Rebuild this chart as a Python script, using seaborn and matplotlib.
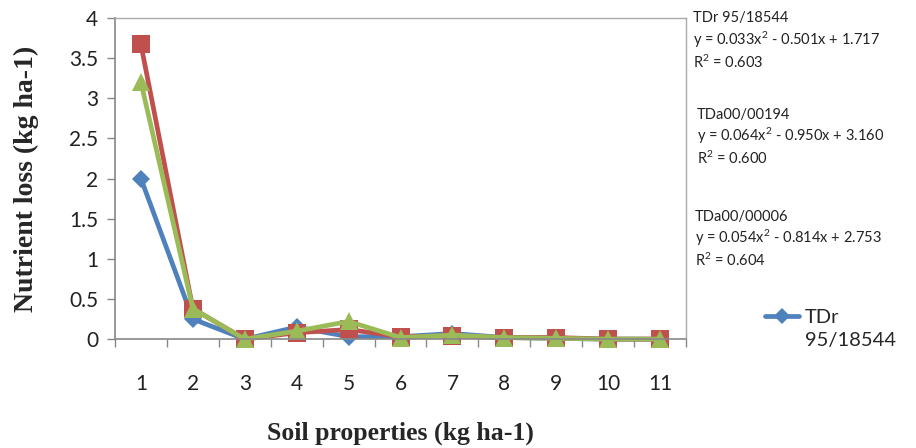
import pandas as pd
import matplotlib
matplotlib.use("Agg")
import matplotlib.pyplot as plt
import seaborn as sns
from matplotlib.ticker import FixedLocator

# soil property index (category axis)
categories = [1, 2, 3, 4, 5, 6, 7, 8, 9, 10, 11]

# nutrient loss per variety
tdr_95_18544 = [2.0, 0.25, 0.0, 0.15, 0.03, 0.03, 0.07, 0.02, 0.01, 0.0, 0.0]
tda00_00194 = [3.67, 0.38, 0.0, 0.08, 0.12, 0.03, 0.04, 0.02, 0.02, 0.0, 0.0]
tda00_00006 = [3.2, 0.38, 0.0, 0.1, 0.22, 0.02, 0.05, 0.02, 0.01, 0.0, 0.0]

series_names = ["TDr 95/18544", "TDa00/00194", "TDa00/00006"]
trend_eqs = [
    ("TDr 95/18544", "y = 0.033x$^2$ - 0.501x + 1.717", "R$^2$ = 0.603"),
    ("TDa00/00194", "y = 0.064x$^2$ - 0.950x + 3.160", "R$^2$ = 0.600"),
    ("TDa00/00006", "y = 0.054x$^2$ - 0.814x + 2.753", "R$^2$ = 0.604"),
]

def main():
    frames = []
    for name, vals in zip(series_names, [tdr_95_18544, tda00_00194, tda00_00006]):
        frames.append(pd.DataFrame({"x": categories, "loss": vals, "variety": name}))
    df = pd.concat(frames, ignore_index=True)

    sns.set_theme(style="white")
    plt.rcParams["font.family"] = ["Lato", "DejaVu Sans"]
    plt.rcParams["mathtext.default"] = "regular"

    fig = plt.figure(figsize=(9.16, 4.48), dpi=100)
    ax = fig.add_axes([0.1255, 0.243, 0.6235, 0.717])

    palette = {"TDr 95/18544": "#4F81BD", "TDa00/00194": "#C0504D", "TDa00/00006": "#9BBB59"}
    markers = {"TDr 95/18544": "D", "TDa00/00194": "s", "TDa00/00006": "^"}
    sns.lineplot(data=df, x="x", y="loss", hue="variety", style="variety",
                 palette=palette, markers=markers, dashes=False, linewidth=3.4,
                 markersize=12.5, markeredgewidth=0, ax=ax, legend=True, clip_on=False)
    for line in ax.lines:
        if line.get_marker() == "D":
            line.set_markersize(9.5)

    ax.set_xlim(0.5, 11.5)
    ax.set_ylim(0, 4)
    ax.set_yticks([0, 0.5, 1, 1.5, 2, 2.5, 3, 3.5, 4])
    ax.set_yticklabels(["0", "0.5", "1", "1.5", "2", "2.5", "3", "3.5", "4"])
    ax.set_xticks(categories)
    ax.xaxis.set_minor_locator(FixedLocator([c + 0.5 for c in [0] + categories]))
    ax.tick_params(axis="x", which="major", length=0, pad=25, labelsize=15, colors="#222222")
    ax.tick_params(axis="x", which="minor", length=6, width=1, color="#888888", direction="out", bottom=True)
    ax.tick_params(axis="y", length=6, width=1, color="#888888", direction="out", left=True,
                   labelsize=15, colors="#222222", pad=6)

    for side in ["left", "bottom"]:
        ax.spines[side].set_color("#888888")
        ax.spines[side].set_linewidth(1.2)
    for side in ["top", "right"]:
        ax.spines[side].set_color("#AAAAAA")
        ax.spines[side].set_linewidth(1)

    ax.set_xlabel("Soil properties (kg ha-1)", fontsize=18.5, fontweight="bold",
                  family="Liberation Serif", labelpad=20)
    ax.set_ylabel("Nutrient loss (kg ha-1)", fontsize=20, fontweight="bold",
                  family="Liberation Serif", labelpad=22)

    # legend shows only the first variety (as in the original chart)
    handles, labels = ax.get_legend_handles_labels()
    ax.legend_.remove()
    leg = fig.legend([handles[0]], ["TDr\n95/18544"], loc="center left",
                     bbox_to_anchor=(0.815, 0.265), frameon=False, fontsize=14.5,
                     handlelength=1.7, markerscale=0.9, handletextpad=0.3)
    leg.get_texts()[0].set_linespacing(1.45)
    leg.get_lines()[0].set_transform(leg.get_lines()[0].get_transform()
                                     + matplotlib.transforms.Affine2D().translate(0, 13))

    # trendline equations
    blocks_y = [(18, 40, 62), (115, 136, 158), (217, 238, 260)]
    blocks_x = [693, 697, 695]
    for (name, eq, r2), ys, x in zip(trend_eqs, blocks_y, blocks_x):
        for txt, y in zip([name, eq, r2], ys):
            fig.text(x / 916, 1 - y / 448, txt, fontsize=10.5, va="center",
                     ha="left", color="#222222")

    fig.savefig("out.png", dpi=100)

if __name__ == "__main__":
    main()
